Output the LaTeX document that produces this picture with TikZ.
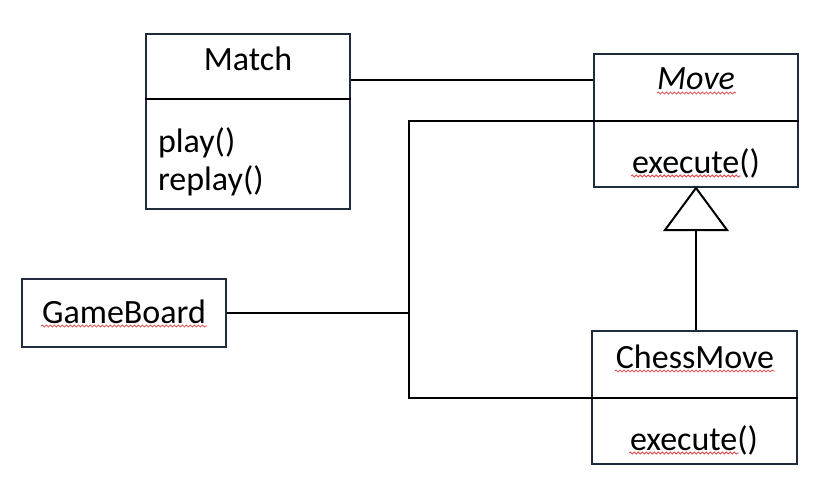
\documentclass[tikz,border=0pt]{standalone}
\usepackage{fontspec}
\setmainfont{Carlito}
\usepackage{tikz}
\usetikzlibrary{positioning,calc,decorations.pathmorphing}
\definecolor{BoxNavy}{RGB}{31,42,60}
\definecolor{SpellRed}{RGB}{225,70,70}
\tikzset{
  classbox/.style={draw=BoxNavy,line width=1pt,inner sep=0pt},
  classtext/.style={anchor=base,inner sep=0pt,font=\fontsize{17}{20}\selectfont},
  squiggle/.style={SpellRed,line width=0.4pt,decorate,
    decoration={snake,amplitude=0.5pt,segment length=2pt}}
}

\begin{document}
\begin{tikzpicture}[x=0.5pt,y=-0.5pt,line width=1pt]
    \useasboundingbox (0,0) rectangle (818,481);

    % Class boxes
    \node[classbox,minimum width=102pt,minimum height=87.5pt] (match) at (248,121.5) {};
    \node[classbox,minimum width=102pt,minimum height=66.5pt] (move) at (696,120.5) {};
    \node[classbox,minimum width=102pt,minimum height=34pt] (board) at (124,313) {};
    \node[classbox,minimum width=102.5pt,minimum height=66.5pt] (chess) at (694.5,397.5) {};

    % Compartment lines
    \draw (match.west |- 0,99) -- (match.east |- 0,99);
    \draw (move.west) -- (move.east);
    \draw (chess.west) -- (chess.east);

    % Names and operations
    \node[classtext] (matchname) at (248,71) {Match};
    \node[classtext,anchor=base west] (play) at (157,152) {play()};
    \node[classtext,anchor=base west] (replay) at (157,190) {replay()};
    \node[classtext] (movename) at (696,90) {\itshape Move};
    \node[classtext] (moveop) at (696,173) {execute()};
    \node[classtext] (boardname) at (124,323) {GameBoard};
    \node[classtext] (chessname) at (695,368) {ChessMove};
    \node[classtext] (chessop) at (694,450) {execute()};

    % Spelling marks
    \draw[squiggle] ($(movename.base west)+(1,3)$) -- ($(movename.base east)+(0,3)$);
    \draw[squiggle] ($(moveop.base west)+(0,3)$) -- ($(moveop.base east)+(-20,3)$);
    \draw[squiggle] ($(boardname.base west)+(0,3)$) -- ($(boardname.base east)+(0,3)$);
    \draw[squiggle] ($(chessname.base west)+(0,3)$) -- ($(chessname.base east)+(0,3)$);
    \draw[squiggle] ($(chessop.base west)+(0,3)$) -- ($(chessop.base east)+(-20,3)$);

    % Associations
    \coordinate (assoc) at (0,80);
    \coordinate (junc) at (409,313);
    \draw (match.east |- assoc) -- (move.west |- assoc);
    \draw (board.east) -- (junc);
    \draw (move.west) -| (junc) |- (chess.west);

    % Generalization
    \coordinate (tip) at ($(move.south)+(0,42)$);
    \draw (move.south) -- ($(tip)+(-31,0)$) -- ($(tip)+(31,0)$) -- cycle;
    \draw (tip) -- (tip |- chess.north);
\end{tikzpicture}
\end{document}
